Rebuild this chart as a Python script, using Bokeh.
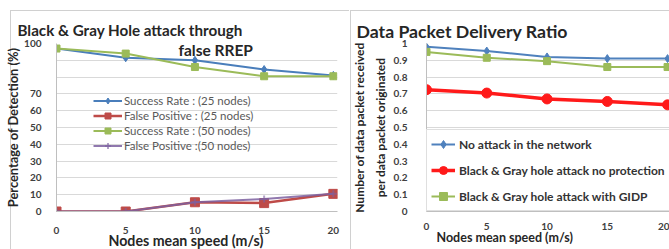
from bokeh.plotting import figure
from bokeh.layouts import row
from bokeh.models import FixedTicker, Label, Range1d, Title
from bokeh.embed import file_html
from bokeh.resources import INLINE

# ---------------- data ----------------
speeds = [0, 5, 10, 15, 20]
sr25 = [97, 91.5, 90, 84.5, 81]
fp25 = [0, 0, 5.5, 5, 10.5]
sr50 = [97, 94, 86, 80.5, 80.5]
fp50 = [0, 0, 5.5, 7.5, 10.5]

pdr_no_attack = [0.98, 0.955, 0.92, 0.91, 0.91]
pdr_no_protect = [0.725, 0.705, 0.67, 0.655, 0.635]
pdr_gidp = [0.95, 0.915, 0.895, 0.86, 0.86]

left_ticks = [0, 10, 20, 30, 40, 50, 60, 70, 80, 90, 100]
right_ticks = [0, 0.1, 0.2, 0.3, 0.4, 0.5, 0.6, 0.7, 0.8, 0.9, 1]
x_ticks = [0, 5, 10, 15, 20]

FONT = "Lato"
H = 249
LINE = "linear-gradient(#d0d0d0, #d0d0d0)"


def panel_styles(x0, y0):
    return {
        "background-color": "white",
        "background-image": f"{LINE}, {LINE}",
        "background-size": "1px 100%, 100% 1px",
        "background-position": f"{x0}px {y0}px, {x0}px {y0}px",
        "background-repeat": "no-repeat",
    }


def style(p, xstand):
    p.border_fill_alpha = 0
    p.xgrid.visible = False
    p.ygrid.grid_line_color = "#d9d9d9"
    p.outline_line_color = None
    p.background_fill_color = "white"
    for ax in (p.xaxis[0], p.yaxis[0]):
        ax.major_tick_line_color = None
        ax.minor_tick_line_color = None
        ax.axis_line_color = "#bfbfbf"
        ax.major_label_text_font = FONT
        ax.major_label_text_font_style = "bold"
        ax.major_label_text_font_size = "10px"
        ax.major_label_text_color = "#404040"
        ax.axis_label_text_font = FONT
        ax.axis_label_text_font_style = "bold"
        ax.axis_label_text_color = "#262626"
    p.xaxis.ticker = FixedTicker(ticks=x_ticks)
    p.xaxis.major_label_standoff = xstand
    p.title.text_font = FONT
    p.title.text_font_style = "bold"
    p.title.text_color = "#262626"
    p.title.align = "left"


# ---------------- left ----------------
pl = figure(width=349, height=H, output_backend="svg", toolbar_location=None,
            x_range=Range1d(0, 20.3), y_range=Range1d(0, 100),
            min_border_left=56, min_border_right=12, min_border_top=43, min_border_bottom=38,
            title="Black & Gray Hole attack through", styles=panel_styles(10, 10))
style(pl, 9)
pl.title.text_font_size = "15.2px"
pl.title.offset = -39
pl.title.standoff = 9
pl.yaxis.ticker = FixedTicker(ticks=left_ticks)
pl.yaxis.major_label_overrides = {80: "", 90: ""}
pl.yaxis.major_label_standoff = 9
pl.yaxis.axis_label = "Percentage of Detection (%)"
pl.yaxis.axis_label_text_font_size = "12.8px"
pl.yaxis.axis_label_standoff = 0
pl.ygrid.ticker = FixedTicker(ticks=left_ticks)

c_blue, c_red, c_green, c_purple = "#4a7ebb", "#be4b48", "#9bbb59", "#7d60a0"
pl.line(speeds, sr25, color=c_blue, line_width=2, legend_label="Success Rate : (25 nodes)")
pl.scatter(speeds, sr25, marker="diamond", size=8, color=c_blue, legend_label="Success Rate : (25 nodes)")
pl.line(speeds, fp25, color=c_red, line_width=2.5, legend_label="False Positive : (25 nodes)")
pl.scatter(speeds, fp25, marker="square", size=9, color=c_red, legend_label="False Positive : (25 nodes)")
pl.line(speeds, sr50, color=c_green, line_width=2, legend_label="Success Rate : (50 nodes)")
pl.scatter(speeds, sr50, marker="square", size=7, color=c_green, legend_label="Success Rate : (50 nodes)")
pl.line(speeds, fp50, color=c_purple, line_width=2, alpha=0.85, legend_label="False Positive :(50 nodes)")
pl.scatter(speeds, fp50, marker="cross", size=7, line_width=2, color=c_purple, alpha=0.6, legend_label="False Positive :(50 nodes)")

lg = pl.legend[0]
lg.location = (37, 58)
lg.background_fill_alpha = 0
lg.border_line_color = None
lg.padding = 0
lg.margin = 0
lg.spacing = 0
lg.label_height = 15
lg.glyph_height = 15
lg.glyph_width = 29
lg.label_standoff = 2
lg.label_text_font = FONT
lg.label_text_font_size = "11.5px"
lg.label_text_color = "#595959"

pl.add_layout(Label(x=11.5, y=96.4, text="false RREP", text_font=FONT,
                    text_font_style="bold", text_font_size="15.5px", text_color="#262626",
                    text_baseline="middle", text_align="center"))
pl.add_layout(Title(text="Nodes mean speed (m/s)", align="left", offset=52, standoff=-13,
                    text_font=FONT, text_font_style="bold", text_font_size="14.2px",
                    text_color="#262626"), "below")

# ---------------- right ----------------
pr = figure(width=320, height=H, output_backend="svg", toolbar_location=None,
            x_range=Range1d(0, 20.16), y_range=Range1d(0, 1),
            min_border_left=72, min_border_right=0, min_border_top=43, min_border_bottom=36,
            title="Data Packet Delivery Ratio", styles=panel_styles(1, 10))
style(pr, 5)
pr.title.text_font_size = "17.7px"
pr.title.offset = -70
pr.title.standoff = 4
pr.yaxis.ticker = FixedTicker(ticks=right_ticks)
pr.yaxis.major_label_overrides = {0: "0", 1: "1"}
pr.yaxis.major_label_standoff = 13
pr.yaxis.axis_label = "Number of data packet received\nper data packet originated"
pr.yaxis.axis_label_text_font_size = "12px"
pr.yaxis.axis_label_text_line_height = 1.35
pr.yaxis.axis_label_standoff = 3
pr.ygrid.ticker = FixedTicker(ticks=right_ticks)

b2, r2, g2 = "#4f81bd", "#ff1a1a", "#9bbb59"
pr.line(speeds, pdr_no_attack, color=b2, line_width=2, legend_label="No attack in the network")
pr.scatter(speeds, pdr_no_attack, marker="diamond", size=8, color=b2, legend_label="No attack in the network")
pr.line(speeds, pdr_no_protect, color=r2, line_width=3.5, legend_label="Black & Gray hole attack no protection")
pr.scatter(speeds, pdr_no_protect, marker="circle", size=10, color=r2, legend_label="Black & Gray hole attack no protection")
pr.line(speeds, pdr_gidp, color=g2, line_width=2, legend_label="Black & Gray hole attack with GIDP")
pr.scatter(speeds, pdr_gidp, marker="square", size=7, color=g2, legend_label="Black & Gray hole attack with GIDP")

lg2 = pr.legend[0]
lg2.location = (0, 0)
lg2.background_fill_color = "white"
lg2.background_fill_alpha = 1
lg2.border_line_color = "#bfbfbf"
lg2.padding = 4
lg2.margin = 0
lg2.spacing = 6
lg2.label_height = 20
lg2.glyph_height = 20
lg2.glyph_width = 24
lg2.label_standoff = 4
lg2.label_text_font = FONT
lg2.label_text_font_style = "bold"
lg2.label_text_font_size = "12px"
lg2.label_text_color = "#333333"

pr.add_layout(Title(text="Nodes mean speed (m/s)", align="left", offset=10, standoff=-9,
                    text_font=FONT, text_font_style="bold", text_font_size="12.5px",
                    text_color="#262626"), "below")

layout = row(pl, pr)
open("out.html", "w").write(file_html(layout, INLINE))
